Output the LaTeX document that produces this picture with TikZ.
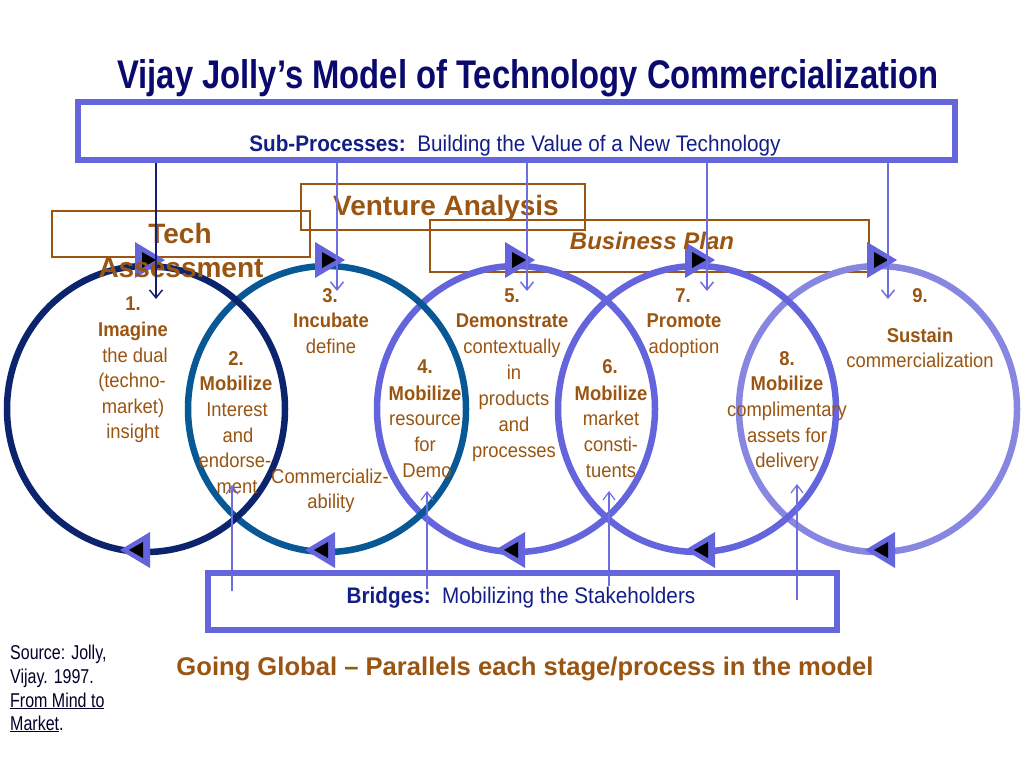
\documentclass[tikz,border=0pt]{standalone}
\usepackage{fontspec}
\setmainfont{Liberation Sans}
\newfontfamily\titlef[FakeStretch=0.82]{Liberation Sans}
\newfontfamily\nf[FakeStretch=0.92]{Liberation Sans}
\newfontfamily\srcf[FakeStretch=0.8]{Liberation Sans}
\usetikzlibrary{arrows.meta}
\definecolor{navy}{RGB}{10,10,110}
\definecolor{navytxt}{RGB}{20,30,135}
\definecolor{navyline}{RGB}{20,30,115}
\definecolor{boxblue}{RGB}{102,102,220}
\definecolor{brownc}{RGB}{153,85,17}
\definecolor{cA}{RGB}{12,36,110}
\definecolor{cB}{RGB}{8,88,150}
\definecolor{cC}{RGB}{100,100,220}
\definecolor{cE}{RGB}{135,135,225}
\definecolor{lineblue}{RGB}{110,110,225}
\definecolor{srccol}{RGB}{0,0,40}
\tikzset{
  ctxt/.style={anchor=base, inner sep=0pt, text=brownc, font=\nf\fontsize{20}{24}\selectfont},
  cbold/.style={anchor=base, inner sep=0pt, text=brownc, font=\nf\bfseries\fontsize{20}{24}\selectfont},
  circ/.style={line width=6.5pt},
  bbox/.style={draw=brownc, line width=1.2pt, inner sep=0pt},
  bluebox/.style={draw=boxblue, line width=6pt, inner sep=0pt},
  downarr/.style={draw=lineblue, line width=1.5pt, -{Straight Barb[length=8pt,width=13pt]}},
  uparr/.style={draw=lineblue, line width=1.2pt, -{Straight Barb[length=8pt,width=12pt]}},
  srctxt/.style={anchor=base west, inner sep=0pt, text=srccol, font=\srcf\fontsize{20}{24}\selectfont},
}
\newcommand\mytoptri[1]{%
  \fill[cC] (#1,242) -- (#1,278) -- ({#1+30},260) -- cycle;
  \fill[black] ({#1+7},252) -- ({#1+7},268) -- ({#1+21},260) -- cycle;}
\newcommand\mybottri[1]{%
  \fill[cC] (#1,550) -- ({#1+30},532) -- ({#1+30},568) -- cycle;
  \fill[black] ({#1+9},550) -- ({#1+23},542) -- ({#1+23},558) -- cycle;}
\begin{document}
\begin{tikzpicture}[x=1pt,y=-1pt]
\useasboundingbox (0,0) rectangle (1024,768);
\fill[white] (0,0) rectangle (1024,768);

% title
\node[anchor=base, inner sep=0pt, text=navy, font=\titlef\bfseries\fontsize{40}{48}\selectfont] (title) at (528,88) {Vijay Jolly’s Model of Technology Commercialization};

% brown phase boxes
\node[bbox, minimum width=258pt, minimum height=46pt] (tabox) at (181,234) {};
\node[bbox, minimum width=284pt, minimum height=46pt] (vabox) at (443,207) {};
\node[bbox, minimum width=439pt, minimum height=52pt] (bpbox) at (649.5,246) {};

% circles
\coordinate (c1) at (146,409);
\coordinate (c2) at (327,409);
\coordinate (c3) at (516,409);
\coordinate (c4) at (697,409);
\coordinate (c5) at (878,409);
\draw[cE, circ] (c5) ellipse [x radius=139pt, y radius=143pt];
\draw[cC, circ] (c4) ellipse [x radius=139pt, y radius=143pt];
\draw[cC, circ] (c3) ellipse [x radius=139pt, y radius=143pt];
\draw[cB, circ] (c2) ellipse [x radius=139pt, y radius=143pt];
\draw[cA, circ] (c1) ellipse [x radius=139pt, y radius=143pt];

% circle 1
\node[cbold] (n1a) at (133,310) {1.};
\node[cbold] (n1b) at (133,336) {Imagine};
\node[ctxt] (n1c) at (135,362) {the dual};
\node[ctxt] (n1d) at (132,387) {(techno-};
\node[ctxt] (n1e) at (133,413) {market)};
\node[ctxt] (n1f) at (133,438) {insight};
% lens 2
\node[cbold] (n2a) at (236,365) {2.};
\node[cbold] (n2b) at (236,390) {Mobilize};
\node[ctxt] (n2c) at (237,416) {Interest};
\node[ctxt] (n2d) at (238,442) {and};
\node[ctxt] (n2e) at (235,467) {endorse-};
\node[ctxt] (n2f) at (237,493) {ment};
% circle 3
\node[cbold] (n3a) at (330,302) {3.};
\node[cbold] (n3b) at (331,327) {Incubate};
\node[ctxt] (n3c) at (331,353) {define};
\node[ctxt] (n3d) at (330,483) {Commercializ-};
\node[ctxt] (n3e) at (331,508) {ability};
% lens 4
\node[cbold] (n4a) at (425,373) {4.};
\node[cbold] (n4b) at (425,400) {Mobilize};
\node[ctxt] (n4c) at (425,425) {resource};
\node[ctxt] (n4d) at (425,451) {for};
\node[ctxt] (n4e) at (427,477) {Demo};
% circle 5
\node[cbold] (n5a) at (512,302) {5.};
\node[cbold] (n5b) at (512,327) {Demonstrate};
\node[ctxt] (n5c) at (512,353) {contextually};
\node[ctxt] (n5d) at (514,379) {in};
\node[ctxt] (n5e) at (514,405) {products};
\node[ctxt] (n5f) at (514,431) {and};
\node[ctxt] (n5g) at (514,457) {processes};
% lens 6
\node[cbold] (n6a) at (610,373) {6.};
\node[cbold] (n6b) at (611,400) {Mobilize};
\node[ctxt] (n6c) at (611,425) {market};
\node[ctxt] (n6d) at (611,451) {consti-};
\node[ctxt] (n6e) at (611,477) {tuents};
% circle 7
\node[cbold] (n7a) at (683,302) {7.};
\node[cbold] (n7b) at (684,327) {Promote};
\node[ctxt] (n7c) at (684,353) {adoption};
% lens 8
\node[cbold] (n8a) at (787,365) {8.};
\node[cbold] (n8b) at (787,390) {Mobilize};
\node[ctxt] (n8c) at (787,416) {complimentary};
\node[ctxt] (n8d) at (787,442) {assets for};
\node[ctxt] (n8e) at (787,467) {delivery};
% circle 9
\node[cbold] (n9a) at (920,302) {9.};
\node[cbold] (n9b) at (920,342) {Sustain};
\node[ctxt] (n9c) at (920,367) {commercialization};

% triangles on circles
\mytoptri{135}
\mytoptri{315}
\mytoptri{505}
\mytoptri{685}
\mytoptri{867}
\mybottri{120}
\mybottri{305}
\mybottri{495}
\mybottri{685}
\mybottri{865}

% phase box labels
\node[anchor=base, inner sep=0pt, text=brownc, font=\bfseries\fontsize{28}{32}\selectfont] (tech) at (180,243) {Tech};
\node[anchor=base, inner sep=0pt, text=brownc, font=\bfseries\fontsize{28}{32}\selectfont] (assess) at (181,277) {Assessment};
\node[anchor=base, inner sep=0pt, text=brownc, font=\bfseries\fontsize{28}{32}\selectfont] (venture) at (446,215) {Venture Analysis};
\node[anchor=base, inner sep=0pt, text=brownc, font=\bfseries\itshape\fontsize{24}{28}\selectfont] (bplan) at (652,249) {Business Plan};

% down arrows from sub-processes box
\coordinate (d1) at (156,299);
\coordinate (d2) at (337,291);
\coordinate (d3) at (527,291);
\coordinate (d4) at (707,291);
\coordinate (d5) at (888,299);
\coordinate (ds1) at (156,158);
\coordinate (ds2) at (337,158);
\coordinate (ds3) at (527,158);
\coordinate (ds4) at (707,158);
\coordinate (ds5) at (888,158);
\draw[downarr, draw=navyline] (ds1) -- (d1);
\draw[downarr] (ds2) -- (d2);
\draw[downarr] (ds3) -- (d3);
\draw[downarr] (ds4) -- (d4);
\draw[downarr] (ds5) -- (d5);

% up arrows from bridges box
\coordinate (u1) at (232,485);
\coordinate (u2) at (427,491);
\coordinate (u3) at (609,491);
\coordinate (u4) at (797,484);
\coordinate (us1) at (232,591);
\coordinate (us2) at (427,589);
\coordinate (us3) at (609,586);
\coordinate (us4) at (797,600);
\draw[uparr] (us1) -- (u1);
\draw[uparr] (us2) -- (u2);
\draw[uparr] (us3) -- (u3);
\draw[uparr] (us4) -- (u4);

% blue boxes
\node[bluebox, minimum width=877pt, minimum height=58pt] (topbox) at (516.5,131) {};
\node[anchor=base, inner sep=0pt, text=navytxt, font=\nf\fontsize{22.5}{26}\selectfont] (subp) at (515,151) {\textbf{Sub-Processes:}\ \ Building the Value of a New Technology};
\node[bluebox, minimum width=629pt, minimum height=57pt] (bridgebox) at (522.5,601.5) {};
\node[anchor=base, inner sep=0pt, text=navytxt, font=\nf\fontsize{22.5}{26}\selectfont] (bridges) at (521,603) {\textbf{Bridges:}\ \ Mobilizing the Stakeholders};

% bottom texts
\node[anchor=base, inner sep=0pt, text=brownc, font=\bfseries\fontsize{25.6}{30}\selectfont] (global) at (525,675) {Going Global – Parallels each stage/process in the model};
\node[srctxt] (s1) at (10,659) {Source: Jolly,};
\node[srctxt] (s2) at (10,683) {Vijay. 1997.};
\node[srctxt] (s3) at (10,707) {\underline{From Mind to}};
\node[srctxt] (s4) at (10,730) {\underline{Market}.};
\end{tikzpicture}
\end{document}
